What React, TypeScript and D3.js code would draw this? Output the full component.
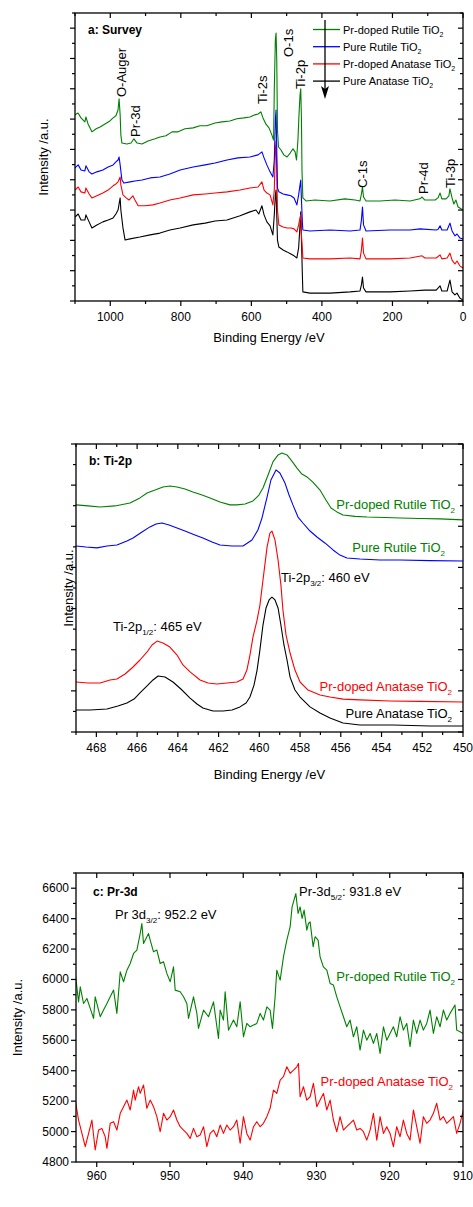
import React from 'react';
import * as d3 from 'd3';

const FONT = "Arial, 'Liberation Sans', Helvetica, sans-serif";
const GREEN = '#008000';
const BLUE = '#0000ff';
const RED = '#ff0000';
const BLACK = '#000000';

type P = [number, number];

// ---------- Panel a: survey spectra [binding energy eV, intensity a.u.] ----------
const surveyPrRutile: P[] = [
  [1100, 6.14], [1091.5, 6.2], [1083, 6.04], [1072, 5.91], [1069, 6.07], [1063, 5.84], [1052, 5.58], [1040, 5.68],
  [1029, 5.74], [1015, 5.84], [1001, 5.94], [992, 6.04], [984, 6.11], [978, 6.3], [975, 6.67], [972, 6.14],
  [970, 5.48], [967, 5.21], [953, 5.18], [941, 5.21], [933, 5.35], [924, 5.21], [910, 5.18], [893, 5.28],
  [873, 5.35], [859, 5.41], [842, 5.45], [825, 5.58], [808, 5.58], [788, 5.68], [765, 5.71], [746, 5.78],
  [726, 5.78], [703, 5.87], [683, 5.91], [661, 5.94], [641, 6.01], [621, 6.04], [604, 6.07], [590, 6.14],
  [581, 6.17], [573, 6.24], [567, 6.04], [559, 5.84], [550, 5.71], [542, 5.48], [537, 5.31], [535, 6.96],
  [532, 8.61], [530, 8.84], [528, 7.95], [526, 5.64], [523, 5.08], [516, 4.98], [508, 4.82], [499, 4.75],
  [490, 4.88], [482, 5.02], [476, 4.92], [472, 4.65], [468, 5.31], [465, 6.14], [462, 6.8], [460, 7.0],
  [458, 5.97], [456.5, 4.32], [454, 3.4], [445, 3.3], [420, 3.33], [377, 3.3], [335, 3.37], [306, 3.33],
  [292, 3.3], [288, 3.53], [285, 3.76], [282, 3.43], [275, 3.3], [235, 3.3], [193, 3.33], [150, 3.3],
  [122, 3.37], [116, 3.43], [108, 3.33], [79, 3.33], [71, 3.4], [65, 3.56], [60, 3.37], [48, 3.37],
  [40, 3.47], [37, 3.7], [31, 3.4], [26, 3.2], [20, 3.33], [14, 3.1], [9, 3.07], [0, 3.0],
];
const surveyPureRutile: P[] = [
  [1100, 4.39], [1091, 4.49], [1083, 4.32], [1072, 4.29], [1069, 4.46], [1060, 4.26], [1052, 4.19], [1038, 4.26],
  [1021, 4.32], [1006, 4.42], [992, 4.49], [984, 4.59], [978, 4.65], [975, 4.75], [972, 4.49], [967, 3.99],
  [961, 3.89], [944, 3.93], [930, 3.96], [910, 3.99], [887, 4.06], [859, 4.09], [831, 4.19], [802, 4.32],
  [765, 4.42], [731, 4.49], [703, 4.55], [669, 4.65], [638, 4.72], [604, 4.75], [581, 4.82], [570, 4.92],
  [564, 4.72], [556, 4.49], [547, 4.26], [539, 4.09], [535, 4.65], [532, 5.97], [530, 6.3], [528, 4.98],
  [526, 3.73], [522, 3.6], [510, 3.53], [499, 3.5], [488, 3.47], [479, 3.4], [471, 3.17], [466, 3.5],
  [462, 3.83], [460, 3.99], [458, 3.33], [455, 2.51], [454, 2.34], [434, 2.31], [377, 2.34], [320, 2.31],
  [292, 2.34], [288, 2.67], [285, 3.1], [282, 2.51], [275, 2.31], [207, 2.34], [150, 2.34], [122, 2.38],
  [76, 2.34], [71, 2.36], [65, 2.48], [60, 2.34], [45, 2.34], [37, 2.57], [31, 2.31], [23, 2.15],
  [17, 2.21], [9, 2.08], [0, 2.05],
];
const surveyPrAnatase: P[] = [
  [1100, 3.66], [1091, 3.76], [1083, 3.6], [1072, 3.56], [1069, 3.73], [1060, 3.53], [1052, 3.4], [1038, 3.47],
  [1021, 3.56], [1006, 3.66], [992, 3.8], [984, 3.86], [978, 3.93], [972, 4.09], [970, 3.83], [964, 3.5],
  [955, 3.4], [947, 3.33], [936, 3.47], [930, 3.33], [921, 3.14], [902, 3.14], [879, 3.17], [859, 3.23],
  [831, 3.33], [802, 3.4], [765, 3.5], [731, 3.53], [703, 3.56], [669, 3.6], [632, 3.66], [604, 3.73],
  [581, 3.76], [570, 3.93], [564, 3.66], [556, 3.56], [547, 3.5], [539, 3.17], [535, 3.66], [532, 4.98],
  [530, 5.28], [528, 4.32], [526, 3.0], [522, 2.51], [510, 2.44], [499, 2.41], [488, 2.41], [479, 2.38],
  [471, 2.28], [466, 2.51], [462, 2.74], [460, 2.84], [458, 2.18], [455, 1.62], [454, 1.42], [434, 1.39],
  [377, 1.39], [320, 1.42], [292, 1.39], [288, 1.68], [285, 2.08], [282, 1.58], [275, 1.39], [207, 1.39],
  [150, 1.42], [116, 1.49], [108, 1.42], [76, 1.42], [65, 1.52], [60, 1.39], [45, 1.42], [37, 1.58],
  [31, 1.35], [23, 1.22], [17, 1.32], [9, 1.16], [0, 1.09],
];
const surveyPureAnatase: P[] = [
  [1100, 2.77], [1091, 2.87], [1083, 2.67], [1072, 2.67], [1069, 2.84], [1060, 2.61], [1052, 2.41], [1038, 2.51],
  [1021, 2.61], [1006, 2.67], [992, 2.74], [984, 2.87], [978, 3.0], [972, 3.4], [970, 3.0], [964, 2.41],
  [958, 2.01], [944, 2.05], [916, 2.11], [887, 2.18], [859, 2.24], [831, 2.34], [802, 2.41], [765, 2.51],
  [731, 2.57], [703, 2.64], [669, 2.67], [632, 2.81], [604, 2.94], [587, 3.0], [579, 2.87], [570, 3.14],
  [564, 2.84], [556, 2.61], [547, 2.48], [539, 2.18], [535, 2.84], [532, 3.5], [530, 3.66], [528, 2.84],
  [526, 2.01], [522, 1.78], [510, 1.68], [499, 1.62], [488, 1.55], [479, 1.49], [471, 1.42], [466, 1.75],
  [462, 2.51], [460, 2.94], [458, 2.01], [455, 0.69], [454, 0.3], [434, 0.26], [377, 0.26], [320, 0.3],
  [292, 0.33], [288, 0.53], [285, 0.79], [282, 0.43], [275, 0.3], [207, 0.3], [150, 0.33], [108, 0.36],
  [76, 0.36], [65, 0.5], [60, 0.33], [45, 0.33], [37, 0.69], [31, 0.3], [23, 0.2], [17, 0.26], [9, 0.1], [0, 0.03],
];
const surveyXTicks = [1000, 800, 600, 400, 200, 0];
const surveyPeakLabels: { text: string; x: number; y: number }[] = [
  { text: 'O-Auger', x: 121.5, y: 97 },
  { text: 'Pr-3d', x: 135, y: 137 },
  { text: 'Ti-2s', x: 262, y: 104 },
  { text: 'O-1s', x: 288.5, y: 57 },
  { text: 'Ti-2p', x: 300.5, y: 89 },
  { text: 'C-1s', x: 362.5, y: 188 },
  { text: 'Pr-4d', x: 423, y: 194 },
  { text: 'Ti-3p', x: 450, y: 188 },
];
const legendNames = ['Pr-doped Rutile TiO', 'Pure Rutile TiO', 'Pr-doped Anatase TiO', 'Pure Anatase TiO'];
const legendColors = [GREEN, BLUE, RED, BLACK];

// ---------- Panel b: Ti-2p ----------
const tiPrRutile: P[] = [
  [469, 11.04], [468.41, 10.99], [467.82, 10.94], [467.09, 10.99], [466.35, 11.13], [465.86, 11.38], [465.51, 11.62],
  [465.12, 11.76], [464.73, 11.91], [464.39, 11.96], [464.04, 11.91], [463.65, 11.81], [463.26, 11.67], [462.81, 11.52],
  [462.42, 11.38], [461.93, 11.18], [461.44, 11.04], [461.1, 11.04], [460.7, 11.08], [460.31, 11.23], [460.02, 11.52],
  [459.82, 11.86], [459.57, 12.49], [459.33, 13.13], [459.08, 13.47], [458.89, 13.56], [458.64, 13.47], [458.4, 13.17],
  [458.15, 12.83], [457.91, 12.54], [457.66, 12.4], [457.37, 12.15], [457.02, 11.76], [456.73, 11.28], [456.48, 10.89],
  [456.19, 10.7], [455.89, 10.55], [455.3, 10.48], [454.71, 10.45], [453.83, 10.43], [453.09, 10.4], [452.11, 10.38],
  [451.13, 10.36], [450, 10.31],
];
const tiPureRutile: P[] = [
  [469, 9.04], [468.51, 8.99], [467.97, 8.95], [467.48, 9.04], [466.99, 9.09], [466.5, 9.29], [466.2, 9.43],
  [465.76, 9.72], [465.37, 9.97], [465.07, 10.11], [464.78, 10.16], [464.43, 10.06], [464.04, 9.92], [463.65, 9.77],
  [463.16, 9.58], [462.77, 9.43], [462.32, 9.24], [461.93, 9.09], [461.34, 9.04], [460.8, 9.04], [460.36, 9.33],
  [460.07, 9.82], [459.87, 10.4], [459.62, 11.42], [459.43, 12.25], [459.18, 12.74], [458.99, 12.59], [458.74, 12.1],
  [458.54, 11.52], [458.35, 11.04], [458.1, 10.45], [457.86, 10.16], [457.51, 9.77], [457.17, 9.48], [456.78, 9.19],
  [456.38, 8.85], [456.04, 8.6], [455.7, 8.46], [455.06, 8.41], [454.08, 8.36], [453.09, 8.36], [451.62, 8.33], [450, 8.31],
];
const tiPrAnatase: P[] = [
  [469, 2.43], [468.41, 2.38], [467.82, 2.38], [467.33, 2.53], [466.99, 2.58], [466.59, 2.82], [466.2, 3.16],
  [465.86, 3.5], [465.51, 3.89], [465.27, 4.23], [465.02, 4.42], [464.73, 4.33], [464.39, 4.13], [464.04, 3.74],
  [463.75, 3.26], [463.4, 2.92], [462.91, 2.53], [462.52, 2.38], [462.08, 2.33], [461.59, 2.38], [461.1, 2.43],
  [460.8, 2.58], [460.61, 3.01], [460.46, 3.74], [460.31, 4.62], [460.11, 5.44], [459.97, 6.17], [459.82, 7.39],
  [459.62, 8.99], [459.48, 9.67], [459.38, 9.77], [459.23, 9.33], [459.08, 8.36], [458.94, 7.15], [458.84, 5.93],
  [458.69, 4.72], [458.49, 3.84], [458.25, 3.01], [458.0, 2.43], [457.61, 2.04], [457.02, 1.8], [456.53, 1.7],
  [455.89, 1.6], [455.06, 1.56], [453.59, 1.51], [452.11, 1.49], [450, 1.46],
];
const tiPureAnatase: P[] = [
  [469, 1.07], [468.31, 1.07], [467.48, 1.12], [466.94, 1.26], [466.5, 1.41], [466.15, 1.6], [465.86, 1.9],
  [465.51, 2.24], [465.22, 2.53], [464.97, 2.72], [464.63, 2.67], [464.24, 2.43], [463.85, 2.09], [463.4, 1.65],
  [463.06, 1.36], [462.77, 1.17], [462.27, 1.02], [461.78, 1.02], [461.34, 1.07], [460.95, 1.22], [460.65, 1.41],
  [460.46, 1.7], [460.26, 2.28], [460.11, 3.01], [459.97, 3.99], [459.82, 5.2], [459.67, 6.03], [459.52, 6.42],
  [459.38, 6.56], [459.23, 6.42], [459.08, 6.03], [458.94, 5.2], [458.79, 4.23], [458.64, 3.5], [458.49, 2.67],
  [458.25, 2.04], [458.0, 1.7], [457.51, 1.22], [457.02, 0.92], [456.53, 0.68], [455.89, 0.44], [455.06, 0.34],
  [453.44, 0.34], [451.62, 0.29], [450, 0.29],
];
const tiXTicks = [468, 466, 464, 462, 460, 458, 456, 454, 452, 450];

// ---------- Panel c: Pr-3d ----------
const prRutile: P[] = [
  [962.93, 6040], [962.48, 5853], [962.25, 5952], [961.8, 5842], [961.34, 5875], [960.89, 5810], [960.43, 5744],
  [960.21, 5886], [959.75, 5799], [959.52, 5755], [959.07, 5799], [958.61, 5842], [958.16, 5886], [957.7, 5930],
  [957.25, 5777], [956.79, 6050], [956.34, 5985], [955.88, 6061], [955.43, 6105], [954.97, 6171], [954.52, 6193],
  [954.07, 6302], [953.84, 6368], [953.61, 6237], [952.93, 6302], [952.7, 6259], [952.25, 6182], [951.79, 6193],
  [951.34, 6105], [950.88, 6116], [950.43, 6040], [949.97, 5985], [949.52, 6083], [949.29, 5930], [948.61, 5919],
  [948.15, 5886], [947.7, 5842], [947.47, 5744], [946.79, 5886], [946.33, 5777], [946.11, 5678], [945.42, 5799],
  [944.74, 5755], [944.06, 5853], [943.38, 5612], [943.15, 5799], [942.7, 5733], [942.47, 5919], [942.01, 5667],
  [941.33, 5733], [940.88, 5689], [940.42, 5853], [939.97, 5623], [939.51, 5711], [939.06, 5689], [938.6, 5700],
  [938.15, 5711], [937.69, 5777], [937.24, 5733], [936.78, 5820], [936.33, 5799], [936.01, 5678], [935.65, 5886],
  [935.42, 6061], [934.96, 5996], [934.51, 6149], [934.05, 6259], [933.6, 6346], [933.33, 6477], [932.82, 6565],
  [932.51, 6434], [932.24, 6477], [931.96, 6401], [931.69, 6456], [931.32, 6324], [931.1, 6368], [930.87, 6379],
  [930.46, 6215], [930.19, 6281], [929.78, 6259], [929.51, 6149], [929.06, 6083], [928.59, 6061], [928.14, 5974],
  [927.69, 5963], [927.23, 5886], [926.78, 5820], [926.32, 5755], [925.87, 5689], [925.41, 5733], [924.96, 5623],
  [924.5, 5689], [924.05, 5536], [923.59, 5667], [923.14, 5601], [922.68, 5645], [922.23, 5580], [921.77, 5645],
  [921.32, 5514], [920.86, 5689], [920.41, 5601], [919.96, 5645], [919.5, 5689], [919.05, 5623], [918.59, 5755],
  [918.14, 5667], [917.68, 5711], [917.23, 5558], [916.77, 5733], [916.32, 5645], [915.86, 5733], [915.41, 5667],
  [914.95, 5711], [914.5, 5799], [914.04, 5645], [913.59, 5755], [913.13, 5689], [912.68, 5799], [912.22, 5733],
  [911.77, 5777], [911.09, 5832], [910.86, 5667], [910.4, 5656], [909.95, 5645],
];
const prAnatase: P[] = [
  [962.93, 5207], [962.48, 5076], [962.02, 4988], [961.57, 4901], [961.11, 4988], [960.66, 5076], [960.21, 4879],
  [959.75, 5010], [959.3, 5021], [958.84, 4966], [958.61, 4890], [958.16, 5054], [957.7, 5065], [957.25, 5010],
  [956.79, 5120], [956.34, 5164], [955.88, 5207], [955.43, 5142], [954.97, 5273], [954.75, 5207], [954.29, 5295],
  [954.07, 5251], [953.61, 5306], [953.16, 5153], [952.7, 5207], [952.25, 5164], [951.79, 5098], [951.34, 4999],
  [950.88, 5120], [950.43, 5076], [949.97, 5098], [949.52, 5142], [949.06, 5076], [948.61, 5032], [948.15, 5010],
  [947.7, 4988], [947.24, 4955], [946.79, 5021], [946.33, 4966], [945.88, 4977], [945.42, 5032], [944.97, 4901],
  [944.52, 4988], [944.06, 5010], [943.61, 4966], [943.15, 5043], [942.7, 4988], [942.24, 5043], [941.79, 5010],
  [941.33, 5032], [940.88, 5076], [940.42, 4923], [939.97, 5098], [939.51, 4988], [939.06, 4944], [938.6, 5032],
  [938.15, 5065], [937.69, 5032], [937.24, 5054], [936.78, 5098], [936.33, 5153], [935.87, 5273], [935.42, 5251],
  [934.96, 5339], [934.51, 5361], [934.05, 5426], [933.6, 5383], [933.14, 5404], [932.69, 5426], [932.46, 5448],
  [932.24, 5229], [931.78, 5295], [931.33, 5207], [930.87, 5229], [930.42, 5317], [929.96, 5164], [929.51, 5207],
  [929.05, 5251], [928.6, 5142], [928.14, 5207], [927.69, 5076], [927.23, 4999], [926.78, 5098], [926.32, 5010],
  [925.87, 5032], [925.41, 5054], [924.96, 5076], [924.5, 5010], [924.05, 5021], [923.59, 4999], [923.14, 4944],
  [922.68, 5010], [922.23, 5120], [921.77, 4944], [921.32, 5098], [920.86, 4988], [920.41, 5032], [919.96, 4988],
  [919.5, 4901], [919.05, 5032], [918.59, 4966], [918.14, 5076], [917.68, 4988], [917.23, 4944], [916.77, 5142],
  [916.32, 5032], [915.86, 4923], [915.41, 5098], [914.95, 5054], [914.5, 5076], [914.04, 5120], [913.59, 5186],
  [913.13, 5076], [912.68, 5098], [912.22, 5054], [911.77, 5076], [911.31, 5098], [910.86, 4988], [910.4, 5054],
  [909.95, 5142],
];
const prXTicks = [960, 950, 940, 930, 920, 910];
const prYTicks = [4800, 5000, 5200, 5400, 5600, 5800, 6000, 6200, 6400, 6600];

type Box = { l: number; r: number; t: number; b: number };

const boxA: Box = { l: 75, r: 463, t: 13, b: 301 };
const boxB: Box = { l: 76, r: 463, t: 444, b: 732 };
const boxC: Box = { l: 76, r: 463, t: 873, b: 1162 };

function range(a: number, b: number, step: number) {
  const out: number[] = [];
  const n = Math.round((b - a) / step);
  for (let i = 0; i <= n; i++) out.push(+(a + i * step).toFixed(6));
  return out;
}

function Axes(props: {
  box: Box;
  x: d3.ScaleLinear<number, number>;
  y: d3.ScaleLinear<number, number>;
  xMajor: number[];
  xMinor: number[];
  yMajor: number[];
  yMinor: number[];
  xLabels: number[];
  yLabels?: number[];
  xLabelDy: number;
}) {
  const { box, x, y, xMajor, xMinor, yMajor, yMinor, xLabels, yLabels, xLabelDy } = props;
  const inX = (v: number) => v >= Math.min(...x.domain()) - 1e-6 && v <= Math.max(...x.domain()) + 1e-6;
  const inY = (v: number) => v >= Math.min(...y.domain()) - 1e-6 && v <= Math.max(...y.domain()) + 1e-6;
  const st = { stroke: '#000', strokeWidth: 1.2 };
  return (
    <g>
      {xMajor.filter(inX).map((v) => (
        <g key={'xM' + v}>
          <line x1={x(v)} x2={x(v)} y1={box.b} y2={box.b + 5} {...st} />
          <line x1={x(v)} x2={x(v)} y1={box.t} y2={box.t + 5} {...st} />
        </g>
      ))}
      {xMinor.filter(inX).map((v) => (
        <g key={'xm' + v}>
          <line x1={x(v)} x2={x(v)} y1={box.b} y2={box.b + 3} {...st} />
          <line x1={x(v)} x2={x(v)} y1={box.t} y2={box.t + 3} {...st} />
        </g>
      ))}
      {yMajor.filter(inY).map((v) => (
        <g key={'yM' + v}>
          <line x1={box.l - 5} x2={box.l} y1={y(v)} y2={y(v)} {...st} />
          <line x1={box.r - 5} x2={box.r} y1={y(v)} y2={y(v)} {...st} />
        </g>
      ))}
      {yMinor.filter(inY).map((v) => (
        <g key={'ym' + v}>
          <line x1={box.l - 3} x2={box.l} y1={y(v)} y2={y(v)} {...st} />
          <line x1={box.r - 3} x2={box.r} y1={y(v)} y2={y(v)} {...st} />
        </g>
      ))}
      <rect x={box.l} y={box.t} width={box.r - box.l} height={box.b - box.t} fill="none" stroke="#000" strokeWidth={1.3} />
      {xLabels.map((v) => (
        <text key={'xl' + v} x={x(v)} y={box.b + xLabelDy} textAnchor="middle" fontSize={12} fontFamily={FONT}>
          {v}
        </text>
      ))}
      {(yLabels || []).map((v) => (
        <text key={'yl' + v} x={box.l - 7} y={y(v)} textAnchor="end" dominantBaseline="central" fontSize={12} fontFamily={FONT}>
          {v}
        </text>
      ))}
    </g>
  );
}

function Sub2(props: { x: number; y: number; text: string; color: string; size: number; anchor?: string }) {
  const { x, y, text, color, size, anchor } = props;
  return (
    <text x={x} y={y} fill={color} fontSize={size} fontFamily={FONT} textAnchor={anchor || 'start'}>
      {text}
      <tspan fontSize={size * 0.62} dy={size * 0.3}>2</tspan>
    </text>
  );
}

function SubMid(props: { x: number; y: number; pre: string; sub: string; post: string; size: number; color?: string }) {
  const { x, y, pre, sub, post, size, color } = props;
  return (
    <text x={x} y={y} fontSize={size} fontFamily={FONT} fill={color || '#000'}>
      {pre}
      <tspan fontSize={size * 0.62} dy={size * 0.3}>{sub}</tspan>
      <tspan dy={-size * 0.3}>{post}</tspan>
    </text>
  );
}

export default function App() {
  // Panel a
  const xA = d3.scaleLinear().domain([1100, 0]).range([boxA.l, boxA.r]);
  const yA = d3.scaleLinear().domain([0, 9.5]).range([boxA.b, boxA.t]);
  const lineA = d3.line<P>().x((d) => xA(d[0])).y((d) => yA(d[1]));

  // Panel b
  const xB = d3.scaleLinear().domain([469, 450]).range([boxB.l, boxB.r]);
  const yB = d3.scaleLinear().domain([0, 14]).range([boxB.b, boxB.t]);
  const lineB = d3.line<P>().x((d) => xB(d[0])).y((d) => yB(d[1]));

  // Panel c
  const xC = d3.scaleLinear().domain([962.83, 910]).range([boxC.l, boxC.r]);
  const yC = d3.scaleLinear().domain([4800, 6700]).range([boxC.b, boxC.t]);
  const lineC = d3.line<P>().x((d) => xC(d[0])).y((d) => yC(d[1]));

  const cw = 1.1;

  return (
    <svg width={473} height={1207} style={{ position: 'absolute', left: 0, top: 0, background: '#fff' }} fontFamily={FONT}>
      <defs>
        <clipPath id="clipA"><rect x={boxA.l} y={boxA.t} width={boxA.r - boxA.l} height={boxA.b - boxA.t} /></clipPath>
        <clipPath id="clipB"><rect x={boxB.l} y={boxB.t} width={boxB.r - boxB.l} height={boxB.b - boxB.t} /></clipPath>
        <clipPath id="clipC"><rect x={boxC.l} y={boxC.t} width={boxC.r - boxC.l} height={boxC.b - boxC.t} /></clipPath>
      </defs>
      <rect x={0} y={0} width={473} height={1207} fill="#fff" />

      {/* ---------------- Panel a ---------------- */}
      <g clipPath="url(#clipA)" fill="none" strokeWidth={cw} strokeLinejoin="round">
        <path d={lineA(surveyPureAnatase) || ''} stroke={BLACK} />
        <path d={lineA(surveyPrAnatase) || ''} stroke={RED} />
        <path d={lineA(surveyPureRutile) || ''} stroke={BLUE} />
        <path d={lineA(surveyPrRutile) || ''} stroke={GREEN} />
      </g>
      <Axes
        box={boxA} x={xA} y={yA}
        xMajor={range(0, 1000, 200)} xMinor={range(100, 1100, 200)}
        yMajor={range(0, 9, 1)} yMinor={range(0.5, 9.5, 1)}
        xLabels={surveyXTicks} xLabelDy={20}
      />
      <text x={88} y={34} fontSize={12} fontWeight="bold" fontFamily={FONT}>a: Survey</text>
      {surveyPeakLabels.map((l) => (
        <text key={l.text} transform={`translate(${l.x},${l.y}) rotate(-90)`} fontSize={13} fontFamily={FONT} dominantBaseline="central">
          {l.text}
        </text>
      ))}
      {legendNames.map((n, i) => {
        const yy = 29.5 + i * 17.2;
        return (
          <g key={n}>
            <line x1={313} x2={340} y1={yy} y2={yy} stroke={legendColors[i]} strokeWidth={1.3} />
            <text x={343} y={yy + 4} fontSize={11} fontFamily={FONT}>
              {n}
              <tspan fontSize={7} dy={3}>2</tspan>
            </text>
          </g>
        );
      })}
      <line x1={325} x2={325} y1={20} y2={92} stroke="#000" strokeWidth={1.3} />
      <polygon points="325,99 321,86 325,89 329,86" fill="#000" />
      <text transform={`translate(43,${(boxA.t + boxA.b) / 2}) rotate(-90)`} textAnchor="middle" dominantBaseline="central" fontSize={13} fontFamily={FONT}>
        Intensity /a.u.
      </text>
      <text x={(boxA.l + boxA.r) / 2} y={342} textAnchor="middle" fontSize={13} fontFamily={FONT}>Binding Energy /eV</text>

      {/* ---------------- Panel b ---------------- */}
      <g clipPath="url(#clipB)" fill="none" strokeWidth={cw} strokeLinejoin="round">
        <path d={lineB(tiPureAnatase) || ''} stroke={BLACK} />
        <path d={lineB(tiPrAnatase) || ''} stroke={RED} />
        <path d={lineB(tiPureRutile) || ''} stroke={BLUE} />
        <path d={lineB(tiPrRutile) || ''} stroke={GREEN} />
      </g>
      <Axes
        box={boxB} x={xB} y={yB}
        xMajor={range(450, 468, 2)} xMinor={range(451, 469, 2)}
        yMajor={range(0, 14, 2)} yMinor={range(1, 13, 2)}
        xLabels={tiXTicks} xLabelDy={20}
      />
      <text x={89} y={465} fontSize={12} fontWeight="bold" fontFamily={FONT}>b: Ti-2p</text>
      <Sub2 x={455} y={509} text="Pr-doped Rutile TiO" color={GREEN} size={13} anchor="end" />
      <Sub2 x={445} y={552} text="Pure Rutile TiO" color={GREEN} size={13} anchor="end" />
      <Sub2 x={452} y={691} text="Pr-doped Anatase TiO" color={RED} size={13} anchor="end" />
      <Sub2 x={452} y={718} text="Pure Anatase TiO" color={BLACK} size={13} anchor="end" />
      <SubMid x={281} y={582} pre="Ti-2p" sub="3/2" post=": 460 eV" size={13} />
      <SubMid x={113} y={631} pre="Ti-2p" sub="1/2" post=": 465 eV" size={13} />
      <text transform={`translate(68,${(boxB.t + boxB.b) / 2}) rotate(-90)`} textAnchor="middle" dominantBaseline="central" fontSize={13} fontFamily={FONT}>
        Intensity /a.u.
      </text>
      <text x={(boxB.l + boxB.r) / 2} y={779} textAnchor="middle" fontSize={13} fontFamily={FONT}>Binding Energy /eV</text>

      {/* ---------------- Panel c ---------------- */}
      <g clipPath="url(#clipC)" fill="none" strokeWidth={cw} strokeLinejoin="round">
        <path d={lineC(prAnatase) || ''} stroke={RED} />
        <path d={lineC(prRutile) || ''} stroke={GREEN} />
      </g>
      <Axes
        box={boxC} x={xC} y={yC}
        xMajor={range(910, 960, 10)} xMinor={range(915, 955, 10)}
        yMajor={prYTicks} yMinor={range(4900, 6700, 200)}
        xLabels={prXTicks} yLabels={prYTicks} xLabelDy={18}
      />
      <text x={93} y={896} fontSize={12} fontWeight="bold" fontFamily={FONT}>c: Pr-3d</text>
      <SubMid x={115} y={919} pre="Pr 3d" sub="3/2" post=": 952.2 eV" size={13} />
      <SubMid x={299} y={896} pre="Pr-3d" sub="5/2" post=": 931.8 eV" size={13} />
      <Sub2 x={455} y={981} text="Pr-doped Rutile TiO" color={GREEN} size={13} anchor="end" />
      <Sub2 x={453} y={1086} text="Pr-doped Anatase TiO" color={RED} size={13} anchor="end" />
      <text transform={`translate(17,${(boxC.t + boxC.b) / 2}) rotate(-90)`} textAnchor="middle" dominantBaseline="central" fontSize={13} fontFamily={FONT}>
        Intensity /a.u.
      </text>
    </svg>
  );
}
